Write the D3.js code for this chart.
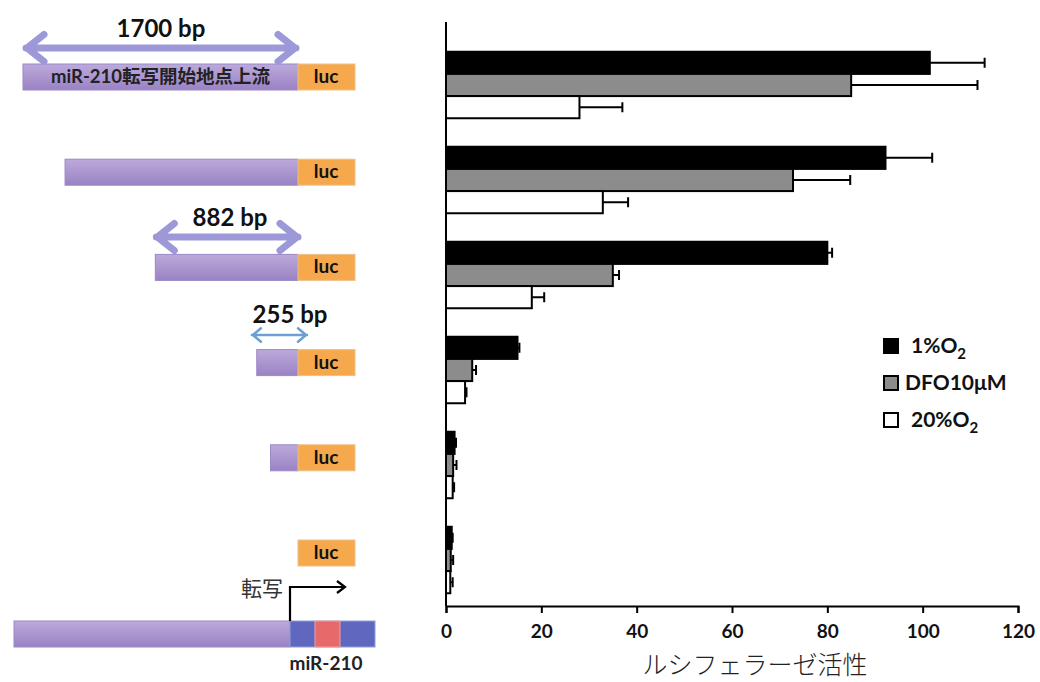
<!DOCTYPE html>
<html>
<head>
<meta charset="utf-8">
<script src="https://cdn.jsdelivr.net/npm/d3@7"></script>
<style>
  body { margin: 0; background: #fff; }
  svg { display: block; }
  .lat { font-family: Lato, "Open Sans", sans-serif; font-weight: 700; }
  .jp { font-family: "Noto Sans CJK JP", sans-serif; }
</style>
</head>
<body>
<svg width="1040" height="682"></svg>
<script>
// constructs (upstream length in bp, 0 = luc only)
const constructs = ['1700', '1440', '882', '255', '170', '0'];
const upstreamBp = [1700, 1440, 882, 255, 170, 0];

// luciferase activity per condition
const conditions = ['hypoxia', 'dfo', 'normoxia'];
const hypoxia = [101.5, 92.2, 80, 15, 1.8, 1.2];
const hypoxiaErr = [11.5, 9.8, 1, 0.4, 0.3, 0.2];
const dfo = [85, 72.8, 35, 5.5, 1.5, 1.0];
const dfoErr = [26.5, 12, 1.3, 0.8, 0.7, 0.5];
const normoxia = [28, 32.9, 18, 4, 1.4, 0.9];
const normoxiaErr = [9, 5.3, 2.6, 0.3, 0.3, 0.5];

const xTicks = [0, 20, 40, 60, 80, 100, 120];
const legendLabels = [['1%O', '2'], ['DFO10μM', ''], ['20%O', '2']];
const fills = ['#000', '#8c8c8c', '#fff'];

const svg = d3.select('svg');

// gradient for purple boxes
const defs = svg.append('defs');
const grad = defs.append('linearGradient').attr('id', 'purp').attr('x1', 0).attr('x2', 0).attr('y1', 0).attr('y2', 1);
grad.append('stop').attr('offset', '0%').attr('stop-color', '#bcaadb');
grad.append('stop').attr('offset', '100%').attr('stop-color', '#9a82c4');

// ---------- bar chart ----------
const x = d3.scaleLinear().domain([0, 120]).range([446, 1018]);
const y = d3.scaleBand().domain(constructs).range([37.5, 607.5]).paddingInner(0.3).paddingOuter(0.15);
const ySub = d3.scaleBand().domain(conditions).range([0, y.bandwidth()]);

const values = { hypoxia, dfo, normoxia };
const errs = { hypoxia: hypoxiaErr, dfo: dfoErr, normoxia: normoxiaErr };

const rows = [];
constructs.forEach((c, i) => {
  conditions.forEach((k, j) => {
    rows.push({ c, k, v: values[k][i], e: errs[k][i], fill: fills[j] });
  });
});

const g = svg.append('g');

// error bars (behind bars)
g.selectAll('.err')
  .data(rows)
  .enter()
  .append('path')
  .attr('d', (d) => {
    const cy = y(d.c) + ySub(d.k) + ySub.bandwidth() / 2;
    const x1 = x(d.v), x2 = x(d.v + d.e);
    return `M${x1},${cy}H${x2}M${x2},${cy - 5}V${cy + 5}`;
  })
  .attr('stroke', '#000')
  .attr('stroke-width', 2)
  .attr('fill', 'none');

g.selectAll('rect.bar')
  .data(rows)
  .enter()
  .append('rect')
  .attr('class', 'bar')
  .attr('x', x(0))
  .attr('y', (d) => y(d.c) + ySub(d.k))
  .attr('width', (d) => x(d.v) - x(0))
  .attr('height', ySub.bandwidth())
  .attr('fill', (d) => d.fill)
  .attr('stroke', '#000')
  .attr('stroke-width', 2);

// y axis line
svg.append('line')
  .attr('x1', x(0)).attr('x2', x(0))
  .attr('y1', 22).attr('y2', 606)
  .attr('stroke', '#000').attr('stroke-width', 2);

// x axis
const xAxis = svg.append('g')
  .attr('transform', 'translate(0,606)')
  .call(d3.axisBottom(x).tickValues(xTicks).tickSize(7).tickPadding(12));
xAxis.selectAll('path, line').attr('stroke', '#000').attr('stroke-width', 2);
xAxis.selectAll('text')
  .attr('class', 'lat')
  .attr('font-size', 19)
  .attr('fill', '#111');

svg.append('text')
  .attr('class', 'jp')
  .attr('x', 755).attr('y', 674)
  .attr('text-anchor', 'middle')
  .attr('font-size', 25)
  .attr('font-weight', 300)
  .attr('fill', '#222')
  .text('ルシフェラーゼ活性');

// legend
const leg = svg.append('g').selectAll('g')
  .data(legendLabels)
  .enter()
  .append('g')
  .attr('transform', (d, i) => `translate(884,${339 + i * 37})`);
leg.append('rect')
  .attr('width', 14).attr('height', 14)
  .attr('fill', (d, i) => fills[i])
  .attr('stroke', '#000').attr('stroke-width', 2);
const lt = leg.append('text')
  .attr('class', 'lat')
  .attr('x', (d, i) => (i === 1 ? 21 : 27))
  .attr('y', 14)
  .attr('font-size', 21)
  .attr('fill', '#111');
lt.append('tspan').text((d) => d[0]);
lt.append('tspan').attr('dy', 6).attr('font-size', 15).text((d) => d[1]);

// ---------- construct diagrams ----------
const bp = d3.scaleLinear().domain([0, 1700]).range([298, 23]);
const rowY = d3.scalePoint().domain(constructs).range([77, 553]);
const boxH = 26;

const cg = svg.append('g');
const cons = cg.selectAll('g')
  .data(constructs.map((c, i) => ({ c, len: upstreamBp[i] })))
  .enter()
  .append('g')
  .attr('transform', (d) => `translate(0,${rowY(d.c) - boxH / 2})`);

cons.filter((d) => d.len > 0)
  .append('rect')
  .attr('x', (d) => bp(d.len))
  .attr('width', (d) => bp(0) - bp(d.len))
  .attr('height', boxH)
  .attr('fill', 'url(#purp)')
  .attr('stroke', '#9a88c8')
  .attr('stroke-width', 1);

cons.append('rect')
  .attr('x', bp(0))
  .attr('width', 57)
  .attr('height', boxH)
  .attr('fill', '#f6a94c')
  .attr('stroke', '#eec08a')
  .attr('stroke-width', 1);

cons.append('text')
  .attr('class', 'lat')
  .attr('x', bp(0) + 28)
  .attr('y', boxH / 2 + 6)
  .attr('text-anchor', 'middle')
  .attr('font-size', 19)
  .attr('fill', '#111')
  .text('luc');

// label inside the longest construct
svg.append('text')
  .attr('x', (bp(1700) + bp(0)) / 2)
  .attr('y', rowY('1700') + 6)
  .attr('text-anchor', 'middle')
  .attr('font-size', 18.5)
  .attr('fill', '#222')
  .attr('font-weight', 700)
  .attr('font-family', 'Lato, "Noto Sans CJK JP", sans-serif')
  .text('miR-210転写開始地点上流');

// double arrows
function dblArrow(x1, x2, yy, color, sw, head) {
  const p = `M${x1},${yy}H${x2}` +
    `M${x1 + head},${yy - head * 0.75}L${x1 + 1},${yy}L${x1 + head},${yy + head * 0.75}` +
    `M${x2 - head},${yy - head * 0.75}L${x2 - 1},${yy}L${x2 - head},${yy + head * 0.75}`;
  svg.append('path').attr('d', p)
    .attr('fill', 'none').attr('stroke', color)
    .attr('stroke-width', sw).attr('stroke-linecap', 'round').attr('stroke-linejoin', 'round');
}
dblArrow(bp(1700) + 3, bp(0) - 2, 48, '#9d99d9', 7, 18);
dblArrow(bp(882) + 1, bp(0), 237, '#9d99d9', 7, 18);
dblArrow(bp(285), 307, 335, '#6d9fd2', 2.5, 9);

const bpLabels = [['1700 bp', 161, 37], ['882 bp', 230, 226], ['255 bp', 290, 323]];
svg.selectAll('.bpl')
  .data(bpLabels)
  .enter()
  .append('text')
  .attr('class', 'lat')
  .attr('x', (d) => d[1]).attr('y', (d) => d[2])
  .attr('text-anchor', 'middle')
  .attr('font-size', 24)
  .attr('fill', '#111')
  .text((d) => d[0]);

// genomic locus at bottom
const gy = 621;
svg.append('rect').attr('x', bp(1700) - 9).attr('y', gy).attr('width', bp(0) - bp(1700) + 1).attr('height', 26)
  .attr('fill', 'url(#purp)').attr('stroke', '#9a88c8');
svg.append('rect').attr('x', 290).attr('y', gy).attr('width', 85).attr('height', 26)
  .attr('fill', '#5f68be').attr('stroke', '#8fa0d8');
svg.append('rect').attr('x', 315).attr('y', gy).attr('width', 25).attr('height', 26)
  .attr('fill', '#e8696a').attr('stroke', '#f2a0a0');
svg.append('path')
  .attr('d', `M290,${gy}V587H345M337,581L345,587L337,593`)
  .attr('fill', 'none').attr('stroke', '#000').attr('stroke-width', 2.2);
svg.append('text')
  .attr('class', 'jp')
  .attr('x', 262).attr('y', 596)
  .attr('text-anchor', 'middle')
  .attr('font-size', 21)
  .attr('fill', '#333')
  .text('転写');
svg.append('text')
  .attr('class', 'lat')
  .attr('x', 326).attr('y', 670)
  .attr('text-anchor', 'middle')
  .attr('font-size', 19)
  .attr('fill', '#222')
  .text('miR-210');
</script>
</body>
</html>
